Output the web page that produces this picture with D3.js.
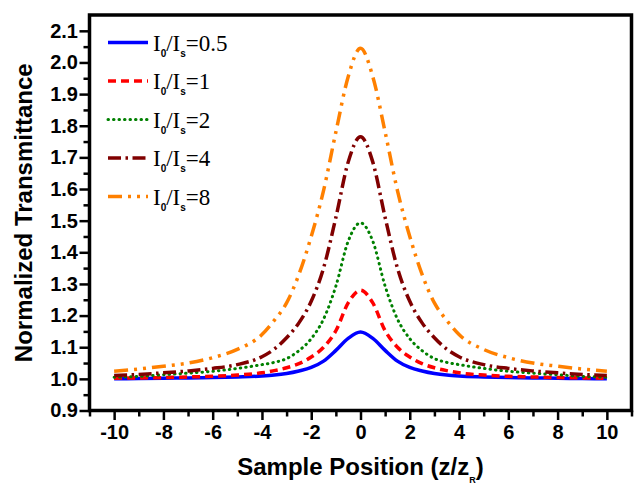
<!DOCTYPE html>
<html>
<head>
<meta charset="utf-8">
<script src="https://cdn.jsdelivr.net/npm/d3@7"></script>
<style>
  body { margin: 0; background: #fff; }
  svg { display: block; }
  .axis text { font-family: "Liberation Sans", Arial, sans-serif; font-weight: bold; font-size: 20px; fill: #000; }
  .axis path { display: none; }
  .axis line { stroke: #000; stroke-width: 2.5px; }
</style>
</head>
<body>
<div id="viz"></div>
<script>
// sample positions z/zR
var zPos = [-10, -9, -8, -7, -6, -5, -4, -3.5, -3, -2.5, -2, -1.5, -1, -0.5,
            0, 0.5, 1, 1.5, 2, 2.5, 3, 3.5, 4, 5, 6, 7, 8, 9, 10];

// normalized transmittance
var t05 = [1.000, 1.001, 1.002, 1.003, 1.004, 1.006, 1.009, 1.012, 1.017, 1.025, 1.036, 1.056, 1.090, 1.128,
           1.148, 1.128, 1.090, 1.056, 1.036, 1.025, 1.017, 1.012, 1.009, 1.006, 1.004, 1.003, 1.002, 1.001, 1.000];
var t1  = [1.002, 1.003, 1.004, 1.006, 1.008, 1.012, 1.019, 1.026, 1.035, 1.048, 1.069, 1.100, 1.152, 1.240,
           1.280, 1.240, 1.152, 1.100, 1.069, 1.048, 1.035, 1.026, 1.019, 1.012, 1.008, 1.006, 1.004, 1.003, 1.002];
var t2  = [1.005, 1.008, 1.013, 1.018, 1.024, 1.033, 1.045, 1.052, 1.064, 1.089, 1.127, 1.189, 1.293, 1.435,
           1.493, 1.435, 1.293, 1.189, 1.127, 1.089, 1.064, 1.052, 1.045, 1.033, 1.024, 1.018, 1.013, 1.008, 1.005];
var t4  = [1.011, 1.014, 1.019, 1.025, 1.033, 1.045, 1.070, 1.094, 1.130, 1.177, 1.245, 1.350, 1.510, 1.685,
           1.765, 1.685, 1.510, 1.350, 1.245, 1.177, 1.130, 1.094, 1.070, 1.045, 1.033, 1.025, 1.019, 1.014, 1.011];
var t8  = [1.024, 1.031, 1.040, 1.050, 1.067, 1.093, 1.140, 1.185, 1.240, 1.330, 1.450, 1.595, 1.780, 1.955,
           2.045, 1.955, 1.780, 1.595, 1.450, 1.330, 1.240, 1.185, 1.140, 1.093, 1.067, 1.050, 1.040, 1.031, 1.024];

var ratios = ['0.5', '1', '2', '4', '8'];
var colors = ['#0000ff', '#ff0000', '#008000', '#800000', '#ff8000'];
var dashes = ['none', '8,5', '0.5,5', '13,4.5,2.5,4.5', '14,6,3,6,3,6'];
var widths = [3.5, 3.5, 3, 3.5, 3.5];
var caps = ['butt', 'butt', 'round', 'butt', 'butt'];

var xMajor = d3.range(-10, 11, 2),
    xMinor = d3.range(-11, 12, 2),
    yMajor = d3.range(9, 22).map(function(d) { return d / 10; }),
    yMinor = d3.range(9, 21).map(function(d) { return d / 10 + 0.05; });

var series = [t05, t1, t2, t4, t8];

var width = 634,
    height = 484;

var x = d3.scaleLinear().domain([-11, 11]).range([89.5, 631.5]);
var y = d3.scaleLinear().domain([0.9, 2.15]).range([410.5, 15]);

var svg = d3.select('#viz').append('svg')
  .attr('width', width)
  .attr('height', height);

// curves
var line = d3.line()
  .x(function(d) { return x(d[0]); })
  .y(function(d) { return y(d[1]); })
  .curve(d3.curveMonotoneX);

series.forEach(function(vals, i) {
  svg.append('path')
    .datum(zPos.map(function(z, j) { return [z, vals[j]]; }))
    .attr('d', line)
    .attr('fill', 'none')
    .attr('stroke', colors[i])
    .attr('stroke-width', widths[i])
    .attr('stroke-dasharray', dashes[i])
    .attr('stroke-linecap', caps[i]);
});

// axes, major + minor ticks
svg.append('g').attr('class', 'axis')
  .attr('transform', 'translate(' + x(-11) + ',0)')
  .call(d3.axisLeft(y).tickValues(yMajor).tickSize(10).tickPadding(1.5)
    .tickFormat(function(d) { return d.toFixed(1); }));
svg.append('g').attr('class', 'axis')
  .attr('transform', 'translate(' + x(-11) + ',0)')
  .call(d3.axisLeft(y).tickValues(yMinor).tickSize(6).tickFormat(''));
svg.append('g').attr('class', 'axis')
  .attr('transform', 'translate(0,' + y(0.9) + ')')
  .call(d3.axisBottom(x).tickValues(xMajor).tickSize(9.5).tickPadding(5)
    .tickFormat(function(d) { return String(d); }));   // plain hyphen like the original
svg.append('g').attr('class', 'axis')
  .attr('transform', 'translate(0,' + y(0.9) + ')')
  .call(d3.axisBottom(x).tickValues(xMinor).tickSize(6).tickFormat(''));

// frame
svg.append('rect')
  .attr('x', x(-11))
  .attr('y', y(2.15))
  .attr('width', x(11) - x(-11))
  .attr('height', y(0.9) - y(2.15))
  .attr('fill', 'none')
  .attr('stroke', '#000')
  .attr('stroke-width', 3.5);

// axis titles
svg.append('text')
  .attr('transform', 'translate(32,' + ((y(0.9) + y(2.15)) / 2) + ') rotate(-90)')
  .attr('text-anchor', 'middle')
  .style('font-family', '"Liberation Sans", Arial, sans-serif')
  .style('font-weight', 'bold')
  .style('font-size', '24px')
  .text('Normalized Transmittance');

var xt = svg.append('text')
  .attr('x', (x(-11) + x(11)) / 2)
  .attr('y', 475)
  .attr('text-anchor', 'middle')
  .style('font-family', '"Liberation Sans", Arial, sans-serif')
  .style('font-weight', 'bold')
  .style('font-size', '24px');
xt.append('tspan').text('Sample Position (z/z');
xt.append('tspan').attr('dy', 8).style('font-size', '9px').text('R');
xt.append('tspan').attr('dy', -8).text(')');

// legend
var legend = svg.append('g');
ratios.forEach(function(r, i) {
  var ly = 42.5 + i * 38.5;
  legend.append('line')
    .attr('x1', 108).attr('x2', 148)
    .attr('y1', ly).attr('y2', ly)
    .attr('stroke', colors[i])
    .attr('stroke-width', widths[i])
    .attr('stroke-dasharray', dashes[i])
    .attr('stroke-linecap', caps[i]);
  var t = legend.append('text')
    .attr('x', 153)
    .attr('y', ly + 8)
    .style('font-family', '"Liberation Serif", "Times New Roman", serif')
    .style('font-size', '23px');
  t.append('tspan').text('I');
  t.append('tspan').attr('dy', 6)
    .style('font-family', '"Liberation Sans", Arial, sans-serif')
    .style('font-weight', 'bold').style('font-size', '10px').text('0');
  t.append('tspan').attr('dy', -6).text('/I');
  t.append('tspan').attr('dy', 6)
    .style('font-family', '"Liberation Sans", Arial, sans-serif')
    .style('font-weight', 'bold').style('font-size', '10px').text('s');
  t.append('tspan').attr('dy', -6).text('=' + r);
});
</script>
</body>
</html>
